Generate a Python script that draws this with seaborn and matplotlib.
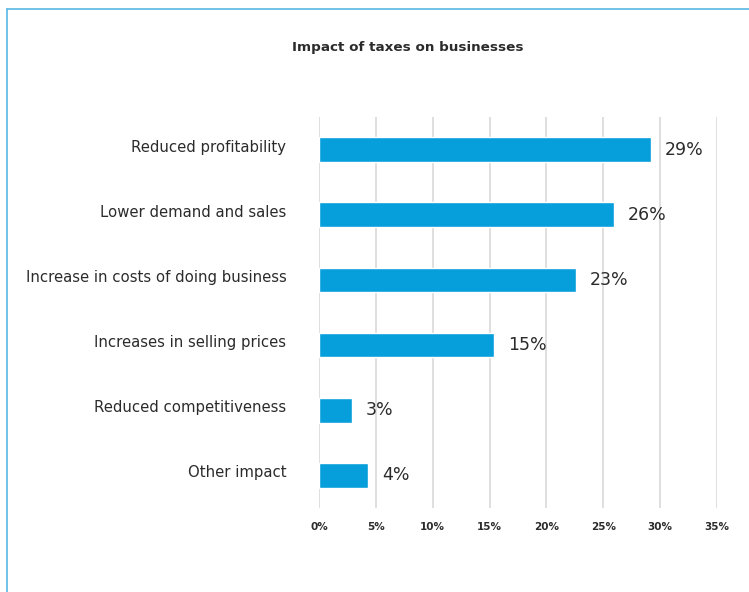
import matplotlib
matplotlib.use("Agg")
import matplotlib.pyplot as plt
import matplotlib.transforms as mtransforms
import seaborn as sns
import pandas as pd

# Survey results: share of businesses reporting each impact of taxes
categories = [
    "Reduced profitability",
    "Lower demand and sales",
    "Increase in costs of doing business",
    "Increases in selling prices",
    "Reduced competitiveness",
    "Other impact",
]
shares = [29.2, 25.9, 22.6, 15.4, 2.9, 4.3]
x_ticks = [0, 5, 10, 15, 20, 25, 30, 35]
x_tick_labels = [f"{t}%" for t in x_ticks]
title = "Impact of taxes on businesses"

df = pd.DataFrame({"impact": categories, "share": shares})

sns.set_theme(style="white")
plt.rcParams["font.family"] = ["DejaVu Sans"]

bar_color = "#069EDB"
text_color = "#2b2b2b"

fig = plt.figure(figsize=(7.49, 5.92), dpi=100)
ax = fig.add_axes([0.4259, 0.1419, 0.5314, 0.6605])

sns.barplot(data=df, x="share", y="impact", color=bar_color, width=0.38,
            saturation=1, ax=ax, zorder=3)

ax.set_xlim(0, 35)
ax.set_ylim(5.5, -0.5)
ax.set_xticks(x_ticks)
ax.set_xticklabels(x_tick_labels, fontsize=7.5, fontweight="bold", color=text_color)
ax.grid(axis="x", color="#d9d9d9", linewidth=1.2, zorder=0)
ax.grid(axis="y", visible=False)
for s in ax.spines.values():
    s.set_visible(False)
ax.tick_params(axis="x", length=0, pad=10)
ax.tick_params(axis="y", length=0, pad=23.5)
ax.set_xlabel("")
ax.set_ylabel("")

ax.set_yticks(range(len(categories)))
ax.set_yticklabels(categories, fontsize=10.7, color=text_color)
lift = mtransforms.ScaledTranslation(0, 4 / 100, fig.dpi_scale_trans)
for lbl in ax.get_yticklabels():
    lbl.set_transform(lbl.get_transform() + lift)

for i, v in enumerate(shares):
    ax.annotate(f"{v:.0f}%", xy=(v, i), xytext=(10, 0), textcoords="offset points",
                va="center", ha="left", fontsize=12.5, color=text_color)

fig.text(0.544, 0.92, title, ha="center", va="center", fontsize=9.7,
         fontweight="bold", color=text_color)

# Frame lines along the top and left edge of the panel
border = "#5bb8e6"
fig.add_artist(plt.Line2D([7 / 749, 1.0], [1 - 9 / 592, 1 - 9 / 592],
                          transform=fig.transFigure, color=border, linewidth=1.2))
fig.add_artist(plt.Line2D([7 / 749, 7 / 749], [0.0, 1 - 9 / 592],
                          transform=fig.transFigure, color=border, linewidth=1.2))

fig.savefig("out.png", dpi=100)
